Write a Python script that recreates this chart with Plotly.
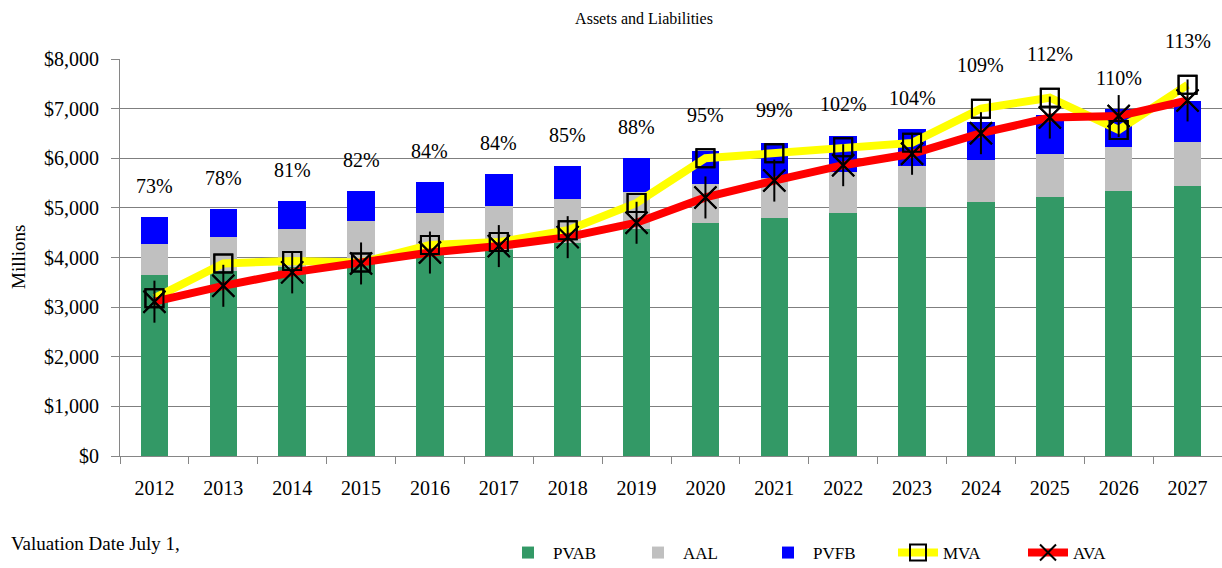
import plotly.graph_objects as go

years = [str(y) for y in range(2012, 2028)]
pvab = [3650, 3720, 3800, 3950, 4050, 4150, 4300, 4577, 4697, 4798, 4899, 5020, 5121, 5228, 5343, 5443]
aal = [4274, 4415, 4577, 4738, 4899, 5040, 5187, 5323, 5484, 5605, 5726, 5853, 5968, 6089, 6230, 6337]
pvfb = [4819, 4980, 5141, 5343, 5524, 5685, 5847, 6008, 6149, 6310, 6452, 6593, 6734, 6875, 6990, 7157]
mva = [3180, 3880, 3930, 3900, 4250, 4310, 4550, 5100, 6000, 6100, 6220, 6310, 7000, 7220, 6570, 7480]
ava = [3110, 3430, 3700, 3880, 4100, 4230, 4410, 4700, 5210, 5550, 5860, 6090, 6505, 6820, 6850, 7165]
funded = ["73%", "78%", "81%", "82%", "84%", "84%", "85%", "88%", "95%", "99%", "102%", "104%", "109%", "112%", "110%", "113%"]
yticks = [0, 1000, 2000, 3000, 4000, 5000, 6000, 7000, 8000]
yticktext = ["$0", "$1,000", "$2,000", "$3,000", "$4,000", "$5,000", "$6,000", "$7,000", "$8,000"]

FONT = "Liberation Serif"
Y_MAX = yticks[-1]

aal_part = [a - p for a, p in zip(aal, pvab)]
pvfb_part = [f - a for f, a in zip(pvfb, aal)]
label_y = [max(f + 620, m + 880) for f, m in zip(pvfb, mva)]

fig = go.Figure()
fig.add_trace(go.Bar(x=years, y=pvab, name="PVAB", marker=dict(color="#339966", line=dict(width=0)), width=0.4))
fig.add_trace(go.Bar(x=years, y=aal_part, name="AAL", marker=dict(color="#C0C0C0", line=dict(width=0)), width=0.4))
fig.add_trace(go.Bar(x=years, y=pvfb_part, name="PVFB", marker=dict(color="#0000FF", line=dict(width=0)), width=0.4))

fig.add_trace(go.Scatter(x=years, y=mva, name="MVA", mode="lines+markers",
                         line=dict(color="#FFFF00", width=8),
                         marker=dict(symbol="square-open", size=18, color="black", line=dict(width=2, color="black"))))
fig.add_trace(go.Scatter(x=years, y=ava, name="AVA", mode="lines+markers",
                         line=dict(color="#FF0000", width=8),
                         marker=dict(symbol="x-thin-open", size=22, color="black", line=dict(width=2, color="black"))))
fig.add_trace(go.Scatter(x=years, y=mva, mode="markers", showlegend=False, hoverinfo="skip",
                         marker=dict(symbol="square-open", size=18, color="black", line=dict(width=2, color="black"))))
fig.add_trace(go.Scatter(x=years, y=ava, mode="markers", showlegend=False, hoverinfo="skip",
                         marker=dict(symbol="x-thin-open", size=22, color="black", line=dict(width=2, color="black"))))
fig.add_trace(go.Scatter(x=years, y=ava, mode="markers", showlegend=False, hoverinfo="skip",
                         marker=dict(symbol="line-ns-open", size=30, color="black", line=dict(width=2, color="black"))))

n = len(years)
for i, (ly, txt) in enumerate(zip(label_y, funded)):
    fig.add_annotation(x=(i + 0.5) / n, y=ly / Y_MAX, xref="paper", yref="paper", text=txt, showarrow=False,
                       xanchor="center", yanchor="middle",
                       font=dict(family=FONT, size=20, color="black"))

fig.update_layout(
    width=1222, height=568,
    margin=dict(l=120, r=0, t=59, b=112, autoexpand=False),
    barmode="stack",
    bargap=0.6,
    plot_bgcolor="white", paper_bgcolor="white",
    font=dict(family=FONT, size=18, color="black"),
    title=dict(text="Assets and Liabilities", x=0.527, xanchor="center", y=1 - 18 / 568, yanchor="middle",
               yref="container", font=dict(family=FONT, size=16, color="black")),
    legend=dict(orientation="h", x=(503 - 120) / 1102, xanchor="left", y=1 - 553 / 568, yanchor="middle",
                yref="container", font=dict(family=FONT, size=17, color="black"), traceorder="normal",
                itemwidth=40, tracegroupgap=0, entrywidth=75, entrywidthmode="pixels"),
    showlegend=True,
)
fig.update_xaxes(type="category", showline=True, linecolor="#868686", linewidth=1,
                 ticks="outside", tickson="boundaries", ticklen=7, tickcolor="#868686",
                 tickfont=dict(family=FONT, size=20, color="black"), ticklabelstandoff=14,
                 showgrid=False, range=[-0.5, n - 0.5])
fig.update_yaxes(range=[0, Y_MAX], tickvals=yticks, ticktext=yticktext,
                 showline=True, linecolor="#868686", linewidth=1,
                 ticks="outside", ticklen=8, tickcolor="#868686",
                 showgrid=True, gridcolor="#7f7f7f", gridwidth=1, zeroline=False,
                 tickfont=dict(family=FONT, size=20, color="black"), ticklabelstandoff=8)

fig.add_annotation(text="Millions", textangle=-90, xref="paper", yref="paper",
                   x=(18 - 120) / 1102, y=(456 - 257) / 397, xanchor="center", yanchor="middle",
                   showarrow=False, font=dict(family=FONT, size=19, color="black"))
fig.add_annotation(text="Valuation Date July 1,", xref="paper", yref="paper",
                   x=(9 - 120) / 1102, y=(456 - 543) / 397, xanchor="left", yanchor="middle",
                   showarrow=False, font=dict(family=FONT, size=19, color="black"))

fig.write_html("out.html", config={"displayModeBar": False},
               post_script="document.body.style.margin='0';document.body.style.padding='0';")
